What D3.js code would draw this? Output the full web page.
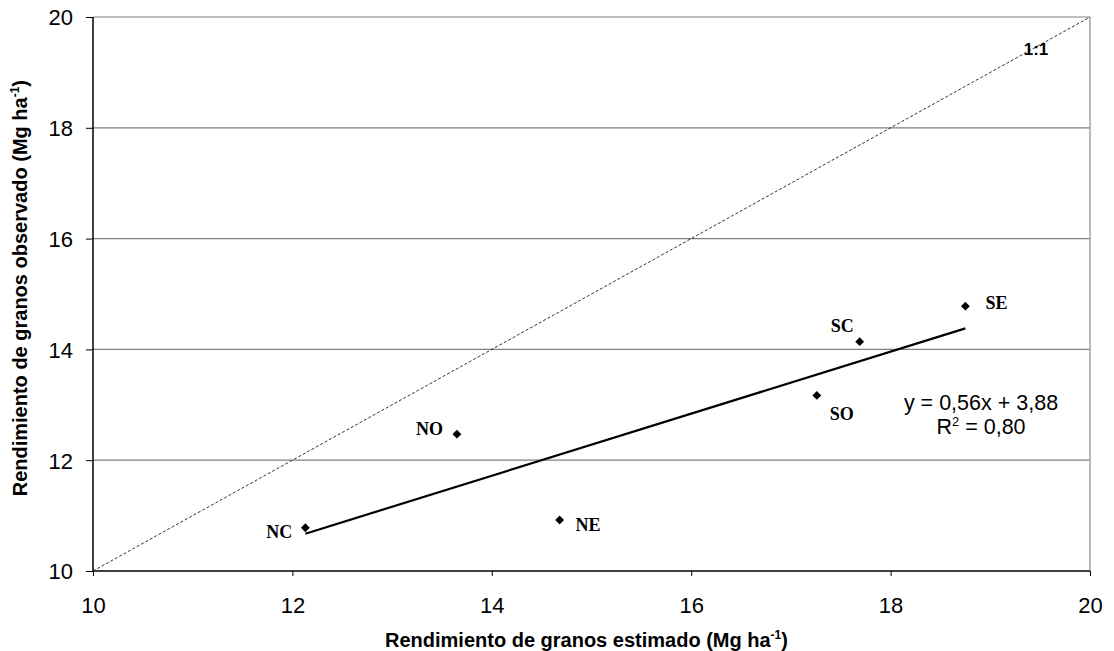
<!DOCTYPE html>
<html>
<head>
<meta charset="utf-8">
<script src="https://cdn.jsdelivr.net/npm/d3@7"></script>
<style>
  html, body { margin: 0; padding: 0; background: #fff; }
  svg { display: block; }
</style>
</head>
<body>
<svg id="chart" width="1114" height="651"></svg>
<script>
// Regions and their estimated / observed grain yields (Mg ha-1)
const regions   = ["NC", "NE", "NO", "SC", "SE", "SO"];
const estimated = [12.13, 14.68, 13.65, 17.69, 18.75, 17.26];
const observed  = [10.78, 10.92, 12.47, 14.14, 14.78, 13.17];

// Linear fit reported on the chart
const slope = 0.56;
const intercept = 3.88;
const r2 = "0,80";

const xTicks = [10, 12, 14, 16, 18, 20];
const yTicks = [10, 12, 14, 16, 18, 20];

// Label offsets relative to each point (dx, dy, anchor)
const labelPos = {
  NC: [-13, 10, "end"],
  NE: [16, 11, "start"],
  NO: [-14, 1, "end"],
  SC: [-6, -10, "end"],
  SE: [20, 3, "start"],
  SO: [13, 25, "start"]
};

const svg = d3.select("#chart");
const plotLeft = 93, plotRight = 1090, plotTop = 17, plotBottom = 571;
const sans = "Arial, 'Liberation Sans', sans-serif";

const x = d3.scaleLinear().domain([10, 20]).range([plotLeft, plotRight]);
const y = d3.scaleLinear().domain([10, 20]).range([plotBottom, plotTop]);

// Horizontal gridlines
svg.append("g").selectAll("line")
  .data(yTicks.filter(d => d > 10))
  .join("line")
  .attr("x1", plotLeft).attr("x2", plotRight)
  .attr("y1", d => y(d)).attr("y2", d => y(d))
  .attr("stroke", "#7f7f7f").attr("stroke-width", 1.2);

// Right border
svg.append("line")
  .attr("x1", plotRight).attr("x2", plotRight)
  .attr("y1", plotTop).attr("y2", plotBottom)
  .attr("stroke", "#8c8c8c").attr("stroke-width", 1.2);

// 1:1 reference line
svg.append("line")
  .attr("x1", x(10)).attr("y1", y(10))
  .attr("x2", x(20)).attr("y2", y(20))
  .attr("stroke", "#000").attr("stroke-width", 0.8)
  .attr("stroke-dasharray", "3,2");

svg.append("text")
  .attr("x", 1036).attr("y", 55)
  .attr("text-anchor", "middle")
  .attr("font-family", sans)
  .attr("font-weight", "bold").attr("font-size", 17)
  .text("1:1");

// Axes
const xAxis = d3.axisBottom(x).tickValues(xTicks).tickSize(5).tickPadding(21).tickFormat(d3.format("d"));
const yAxis = d3.axisLeft(y).tickValues(yTicks).tickSize(7).tickPadding(13).tickFormat(d3.format("d"));

const gx = svg.append("g").attr("transform", `translate(0,${plotBottom})`).call(xAxis);
const gy = svg.append("g").attr("transform", `translate(${plotLeft},0)`).call(yAxis);

[gx, gy].forEach(g => {
  g.select(".domain").attr("stroke", "#000").attr("stroke-width", 1.5);
  g.selectAll(".tick line").attr("stroke", "#000").attr("stroke-width", 1);
  g.selectAll(".tick text")
    .attr("font-family", sans)
    .attr("font-size", 22).attr("fill", "#000");
});
gx.select(".domain").attr("d", `M${plotLeft},0H${plotRight}`);
gy.select(".domain").attr("d", `M0,${plotTop}V${plotBottom}`);
gy.selectAll(".tick text").attr("dy", "0.36em");

// Trend line across the range of the estimates
const [xmin, xmax] = d3.extent(estimated);
svg.append("line")
  .attr("x1", x(xmin)).attr("y1", y(slope * xmin + intercept))
  .attr("x2", x(xmax)).attr("y2", y(slope * xmax + intercept))
  .attr("stroke", "#000").attr("stroke-width", 2.2);

// Points
const pts = regions.map((r, i) => ({ r, ex: estimated[i], ob: observed[i] }));
const diamond = d3.symbol().type(d3.symbolDiamond2).size(50);

svg.append("g").selectAll("path")
  .data(pts)
  .join("path")
  .attr("d", diamond)
  .attr("transform", d => `translate(${x(d.ex)},${y(d.ob)})`)
  .attr("fill", "#000");

svg.append("g").selectAll("text")
  .data(pts)
  .join("text")
  .attr("x", d => x(d.ex) + labelPos[d.r][0])
  .attr("y", d => y(d.ob) + labelPos[d.r][1])
  .attr("text-anchor", d => labelPos[d.r][2])
  .attr("font-family", "'Liberation Serif', 'Times New Roman', serif")
  .attr("font-weight", "bold").attr("font-size", 18)
  .text(d => d.r);

// Equation
const eq = svg.append("text")
  .attr("font-family", sans)
  .attr("font-size", 21.5).attr("text-anchor", "middle");
eq.append("tspan").attr("x", 981).attr("y", 410)
  .text(`y = ${String(slope).replace(".", ",")}x + ${String(intercept).replace(".", ",")}`);
const r2line = eq.append("tspan").attr("x", 981).attr("y", 434);
r2line.append("tspan").text("R");
r2line.append("tspan").attr("font-size", 13).attr("dy", -8).text("2");
r2line.append("tspan").attr("dy", 8).text(` = ${r2}`);

// Axis titles
const xt = svg.append("text")
  .attr("x", 385).attr("y", 647)
  .attr("text-anchor", "start")
  .attr("font-family", sans)
  .attr("font-weight", "bold").attr("font-size", 20);
xt.append("tspan").text("Rendimiento de granos estimado (Mg ha");
xt.append("tspan").attr("font-size", 12).attr("dy", -8).text("-1");
xt.append("tspan").attr("dy", 8).text(")");

const yt = svg.append("text")
  .attr("transform", `translate(27,80) rotate(-90)`)
  .attr("text-anchor", "end")
  .attr("font-family", sans)
  .attr("font-weight", "bold").attr("font-size", 20);
yt.append("tspan").text("Rendimiento de granos observado (Mg ha");
yt.append("tspan").attr("font-size", 12).attr("dy", -8).text("-1");
yt.append("tspan").attr("dy", 8).text(")");
</script>
</body>
</html>
